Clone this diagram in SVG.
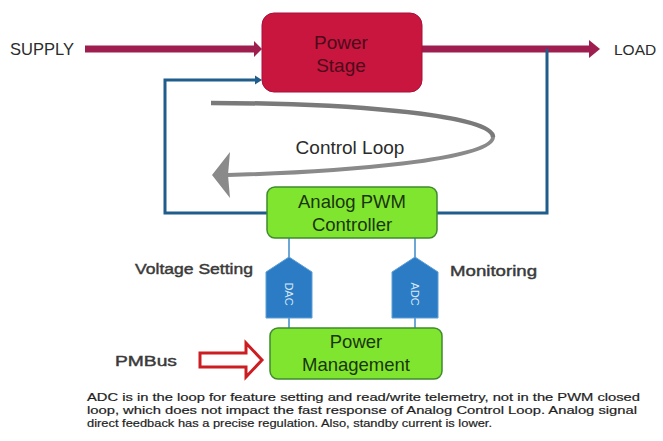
<svg xmlns="http://www.w3.org/2000/svg" width="663" height="441" viewBox="0 0 663 441">
  <style>
    .lbl { font-family: "Liberation Sans", Arial, sans-serif; fill: #2b2b2b; }
    .side { font-family: "Liberation Sans", Arial, sans-serif; fill: #3a3a3a; stroke: #3a3a3a; stroke-width: 0.45; font-size: 15.5px; }
    .ps { font-family: "Liberation Sans", Arial, sans-serif; fill: #4e0a1a; font-size: 19px; text-anchor: middle; }
    .gt { font-family: "Liberation Sans", Arial, sans-serif; fill: #1a360c; font-size: 18.5px; text-anchor: middle; }
    .conv { font-family: "Liberation Sans", Arial, sans-serif; fill: #d8e8f8; font-size: 11px; text-anchor: middle; }
    .note { font-family: "Liberation Sans", Arial, sans-serif; fill: #1e1e1e; stroke: #1e1e1e; stroke-width: 0.2; font-size: 11.5px; }
    .power { stroke: #9e1e4f; stroke-width: 7; fill: none; }
    .fb { stroke: #1f5d8c; stroke-width: 3; fill: none; }
    .tap { stroke: #6ea6d6; stroke-width: 2; fill: none; }
    .green { fill: #80e52f; stroke: #3f8a2e; stroke-width: 1.5; }
    .conv-shape { fill: #2b7cc4; stroke: #5d9fd8; stroke-width: 1; }
  </style>

  <rect width="663" height="441" fill="#ffffff"/>

  <!-- connectors -->
  <g id="connectors">
    <!-- supply to power stage -->
    <path class="power" d="M85 49 H255"/>
    <polygon points="254,41 262,49 254,57" fill="#9e1e4f"/>
    <!-- power stage to load -->
    <path class="power" d="M422 49 H590"/>
    <polygon points="589,40 600,49 589,58" fill="#9e1e4f"/>
    <!-- feedback loop: output sense to controller, controller drive to power stage -->
    <path class="fb" d="M547 49 V213 H437"/>
    <path class="fb" d="M267 213 H165 V80 H256"/>
    <polygon points="255,75.5 262,80 255,84.5" fill="#1f5d8c"/>
    <!-- controller to converters to power management -->
    <path class="tap" d="M289 238 V258 M289 318 V328"/>
    <path class="tap" d="M415 238 V258 M415 318 V328"/>
    <!-- control loop sweep -->
    <path d="M211 103 C330 103 493 113 493 137" fill="none" stroke="#7a7a7a" stroke-width="4.5"/>
    <path d="M493 137 C493 160 340 172 228 175" fill="none" stroke="#8a8a8a" stroke-width="4"/>
    <polygon points="212,175 230,152 228,175 230,198" fill="#8a8a8a"/>
    <!-- PMBus input arrow -->
    <polygon points="200,353 246,353 246,343 262,360 246,377 246,367 200,367" fill="#ffffff" stroke="#cc1e22" stroke-width="3" stroke-linejoin="miter"/>
  </g>

  <g id="supply">
    <text class="lbl" x="10" y="55" font-size="16.5">SUPPLY</text>
  </g>
  <g id="load">
    <text class="lbl" x="614" y="55" font-size="15.5">LOAD</text>
  </g>

  <g id="power-stage">
    <rect x="262" y="13" width="160" height="79" rx="12" fill="#c8163f" stroke="#a8113a" stroke-width="1"/>
    <text class="ps" x="341" y="49">Power</text>
    <text class="ps" x="341" y="72">Stage</text>
  </g>

  <g id="control-loop">
    <text class="lbl" x="350" y="154" font-size="19" text-anchor="middle">Control Loop</text>
  </g>

  <g id="pwm-controller">
    <rect class="green" x="267" y="187" width="170" height="51" rx="8"/>
    <text class="gt" x="352" y="208">Analog PWM</text>
    <text class="gt" x="352" y="231">Controller</text>
  </g>

  <g id="dac">
    <polygon class="conv-shape" points="289,257 312,272 312,318 266,318 266,272"/>
    <text class="conv" transform="translate(289,294) rotate(90)" y="4">DAC</text>
  </g>
  <g id="adc">
    <polygon class="conv-shape" points="415,257 438,272 438,318 392,318 392,272"/>
    <text class="conv" transform="translate(415,294) rotate(90)" y="4">ADC</text>
  </g>

  <g id="voltage-setting">
    <text class="side" x="135" y="274" textLength="118" lengthAdjust="spacingAndGlyphs">Voltage Setting</text>
  </g>
  <g id="monitoring">
    <text class="side" x="450" y="276" textLength="87" lengthAdjust="spacingAndGlyphs">Monitoring</text>
  </g>

  <g id="power-management">
    <rect class="green" x="270" y="328" width="172" height="51" rx="8"/>
    <text class="gt" x="356" y="348">Power</text>
    <text class="gt" x="356" y="371">Management</text>
  </g>

  <g id="pmbus">
    <text class="side" x="115" y="366" textLength="62" lengthAdjust="spacingAndGlyphs">PMBus</text>
  </g>

  <g id="note">
    <text class="note" x="87" y="401" textLength="553" lengthAdjust="spacingAndGlyphs">ADC is in the loop for  feature setting and read/write telemetry, not in the PWM closed</text>
    <text class="note" x="87" y="414" textLength="550" lengthAdjust="spacingAndGlyphs">loop, which does not impact the fast response of Analog Control Loop.  Analog signal</text>
    <text class="note" x="87" y="427" textLength="405" lengthAdjust="spacingAndGlyphs">direct feedback has a precise regulation. Also, standby current is lower.</text>
  </g>
</svg>
